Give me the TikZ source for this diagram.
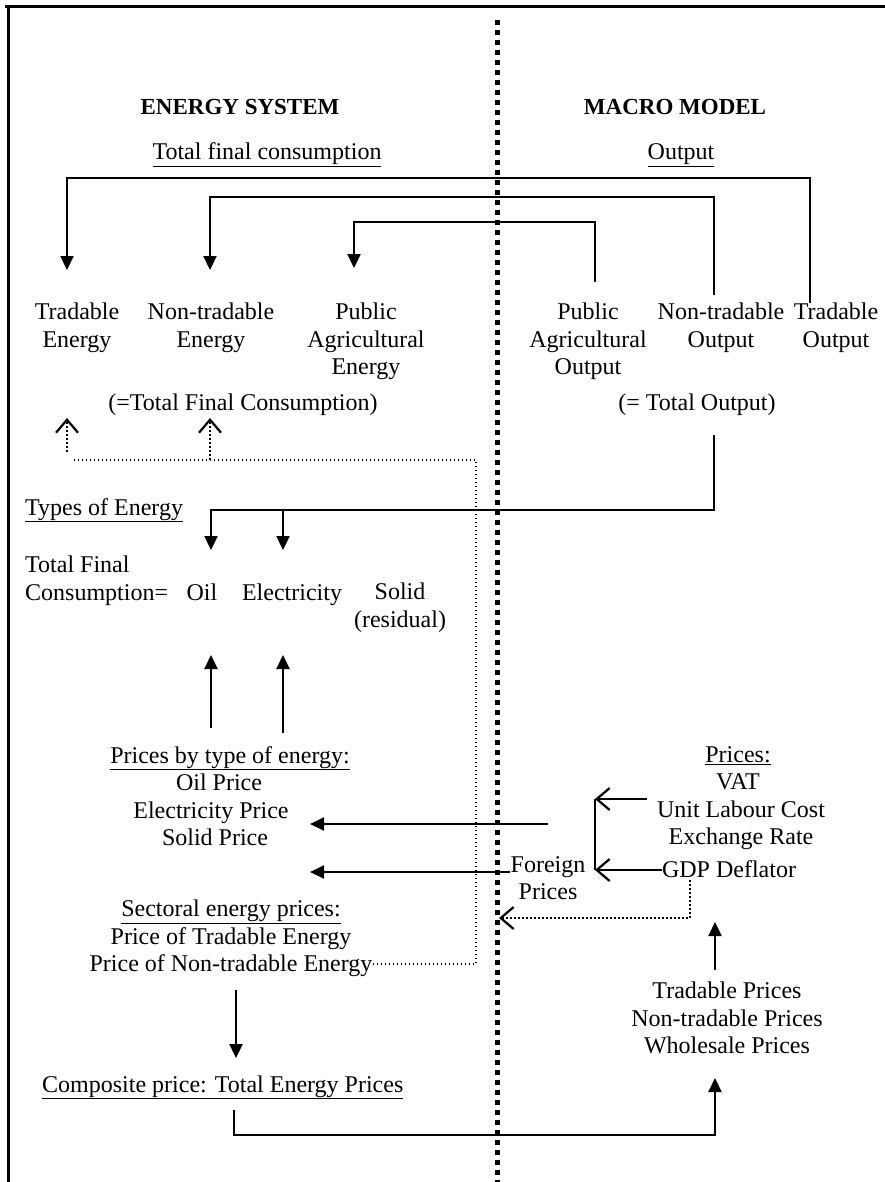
\documentclass[tikz,border=0pt]{standalone}
\usepackage{fontspec}
\setmainfont{Liberation Serif}
\usetikzlibrary{arrows.meta}
\begin{document}
\begin{tikzpicture}[x=1pt,y=-1pt,
  txt/.style={inner sep=0pt, font=\fontsize{24}{27.5}\selectfont, align=center},
  hdr/.style={inner sep=0pt, font=\fontsize{23}{27}\selectfont\bfseries},
  conn/.style={line width=2.3pt},
  thin/.style={line width=1.9pt},
  farrow/.style={-{Triangle[width=13pt,length=14pt]}},
  oarrow/.style={-{Straight Barb[width=22pt,length=13pt,line width=2.2pt]}},
  dots/.style={line width=1.7pt, dash pattern=on 1.7pt off 2.3pt},
  stem/.style={line width=2.4pt, dash pattern=on 2pt off 2pt},
  divider/.style={line width=5pt, dash pattern=on 5pt off 5pt}
]
\useasboundingbox (0,0) rectangle (885,1182);
% frame
\draw[line width=3pt] (5,7) -- (885,7);
\draw[line width=3pt] (8,7) -- (8,1182);
\draw[divider] (497,20) -- (497,1182);

% headings
\node[hdr,anchor=base] (es) at (240,115) {ENERGY SYSTEM};
\node[hdr,anchor=base] (mm) at (675,115) {MACRO MODEL};
\node[txt,anchor=base] (tfc) at (267,160) {\underline{Total final consumption}};
\node[txt,anchor=base] (out) at (681,160) {\underline{Output}};

% energy / output categories
\node[txt,anchor=north] (te) at (77,303) {Tradable\\Energy};
\node[txt,anchor=north] (nte) at (211,303) {Non-tradable\\Energy};
\node[txt,anchor=north] (pae) at (366,303) {Public\\Agricultural\\Energy};
\node[txt,anchor=north] (pao) at (588,303) {Public\\Agricultural\\Output};
\node[txt,anchor=north] (nto) at (721,303) {Non-tradable\\Output};
\node[txt,anchor=north] (to) at (836,303) {Tradable\\Output};

\node[txt,anchor=base] (tfcsum) at (243,410) {(=Total Final Consumption)};
\node[txt,anchor=base] (tosum) at (697,410) {(= Total Output)};

% types of energy
\node[txt,anchor=base west] (toe) at (25,515) {\underline{Types of Energy}};
\node[txt,anchor=north west,align=left] (tfc2) at (25,556) {Total Final\\Consumption=};
\node[txt,anchor=base] (oil) at (202,600) {Oil};
\node[txt,anchor=base] (ele) at (292,600) {Electricity};
\node[txt,anchor=north] (sol) at (400,583) {Solid\\(residual)};

% prices
\node[txt,anchor=north] (pbt) at (215,746) {\hspace*{30pt}\underline{Prices by type of energy:}\\\hspace*{8pt}Oil Price\\\hspace*{-8pt}Electricity Price\\Solid Price};
\node[txt,anchor=north] (pr) at (738,746) {\underline{Prices:}\\VAT\\\hspace*{6pt}Unit Labour Cost\\\hspace*{6pt}Exchange Rate};
\node[txt,anchor=base] (gdp) at (729,877) {GDP Deflator};
\node[txt,anchor=north] (fp) at (548,856) {Foreign\\Prices};
\node[txt,anchor=north] (sep) at (231,900) {\underline{Sectoral energy prices:}\\Price of Tradable Energy\\Price of Non-tradable Energy};
\node[txt,anchor=north] (tp) at (727,982) {Tradable Prices\\Non-tradable Prices\\Wholesale Prices};
\node[txt,anchor=base west] (cp) at (42,1092) {\underline{Composite price: Total Energy Prices}};

% output -> consumption links
\draw[conn,farrow] (810,303) |- (67,178) -- (67,270);
\draw[conn,farrow] (714,295) |- (210,197) -- (210,270);
\draw[conn,farrow] (595,282) |- (354,222) -- (354,268);

% total output -> types of energy
\draw[conn,farrow] (714,435) |- (211,510) -- (211,550);
\draw[conn,farrow] (283,510) -- (283,550);

% prices by type -> oil / electricity
\draw[conn,farrow] (211,728) -- (211,655);
\draw[conn,farrow] (283,733) -- (283,655);

% macro prices -> energy prices
\draw[thin,farrow] (548,824) -- (310,824);
\draw[thin,farrow] (fp.west |- 0,872) -- (310,872);

% bracket of VAT etc. / GDP deflator
\draw[conn] (595,799) -- (595,870);
\draw[conn,oarrow] (647,799) -- (595,799);
\draw[conn,oarrow] (gdp.west |- 0,870) -- (595,870);

% GDP deflator -> foreign prices (dotted)
\draw[dots,oarrow] (690,880) |- (499,918);

% tradable prices -> GDP deflator
\draw[conn,farrow] (715,970) -- (715,922);

% sectoral prices -> total final consumption (dotted)
\draw[dots] (sep.east |- 0,964) -| (476,460) -- (72,460);
\draw[stem,oarrow] (67,452) -- (67,418);
\draw[stem,oarrow] (210,460) -- (210,418);

% sectoral -> composite
\draw[conn,farrow] (236,990) -- (236,1058);

% composite -> tradable prices
\draw[conn,farrow] (234,1110) |- (715,1135) -- (715,1078);
\end{tikzpicture}
\end{document}
